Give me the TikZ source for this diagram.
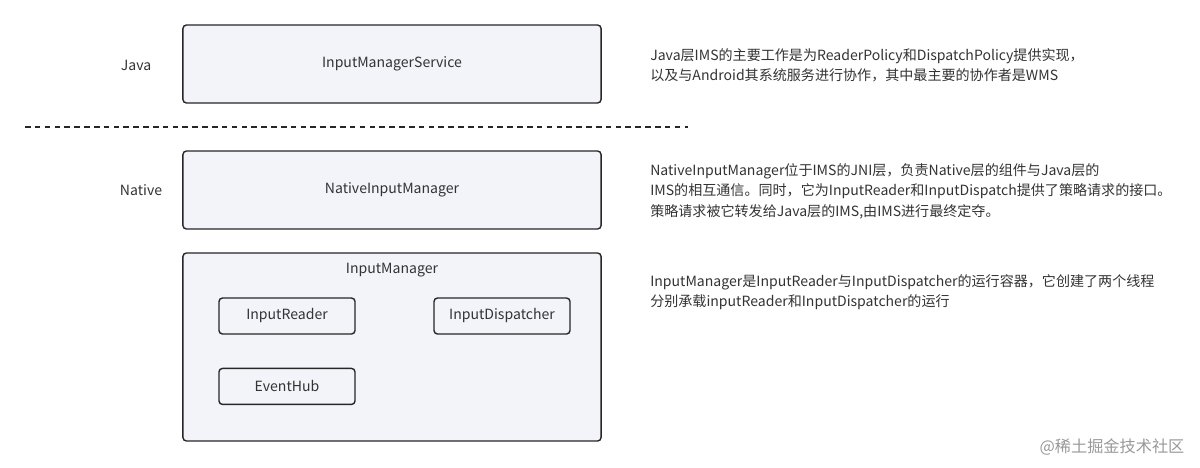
\documentclass[tikz,border=0pt]{standalone}
\usepackage{fontspec}
\setmainfont{Noto Sans CJK SC}
\usetikzlibrary{positioning}
\definecolor{boxfill}{HTML}{F2F4F9}
\definecolor{txt}{HTML}{333333}

\begin{document}
\begin{tikzpicture}[x=0.025cm, y=-0.025cm,
  layer/.style={draw=black!85, fill=boxfill, rounded corners=2.5pt, line width=1pt,
    minimum width=10.45cm, minimum height=1.95cm, font=\fontsize{10}{12}\selectfont, text=txt},
  part/.style={draw=black!85, fill=boxfill, rounded corners=2.5pt, line width=1pt,
    minimum width=3.4cm, minimum height=0.9cm, font=\fontsize{10}{12}\selectfont, text=txt},
  side/.style={font=\fontsize{10}{12}\selectfont, text=txt},
  note/.style={anchor=west, align=left, inner sep=0pt, text=txt,
    font=\fontsize{10}{14.5}\selectfont}]
\useasboundingbox (0,0) rectangle (1200,467);
\node[layer] (ims) at (392,64) {InputManagerService};
\node[side] (java) at (136,65) {Java};
\draw[line width=1.1pt, dash pattern=on 4pt off 3pt, black!85] (25,127) -- (688,127);
\node[layer] (nim) at (392,190) {NativeInputManager};
\node[side] (native) at (141,190) {Native};
\node[layer, minimum height=4.7cm] (im) at (392,347) {};
\node[side, below=1.5mm of im.north] (imtitle) {InputManager};
\node[part] (reader) at (287,316) {InputReader};
\node[part] (disp) at (502,316) {InputDispatcher};
\node[part, below=0.825cm of reader] (hub) {EventHub};
\node[note] (n1) at (650,65) {Java层IMS的主要工作是为ReaderPolicy和DispatchPolicy提供实现，\\以及与Android其系统服务进行协作，其中最主要的协作者是WMS};
\node[note] (n2) at (650,191) {NativeInputManager位于IMS的JNI层，负责Native层的组件与Java层的\\IMS的相互通信。同时，它为InputReader和InputDispatch提供了策略请求的接口。\\策略请求被它转发给Java层的IMS,由IMS进行最终定夺。};
\node[note] (n3) at (650,292) {InputManager是InputReader与InputDispatcher的运行容器，它创建了两个线程\\分别承载inputReader和InputDispatcher的运行};
\node[text=black!40, font=\fontsize{11.5}{13}\selectfont] (mark) at (1112,447) {@稀土掘金技术社区};
\end{tikzpicture}
\end{document}
